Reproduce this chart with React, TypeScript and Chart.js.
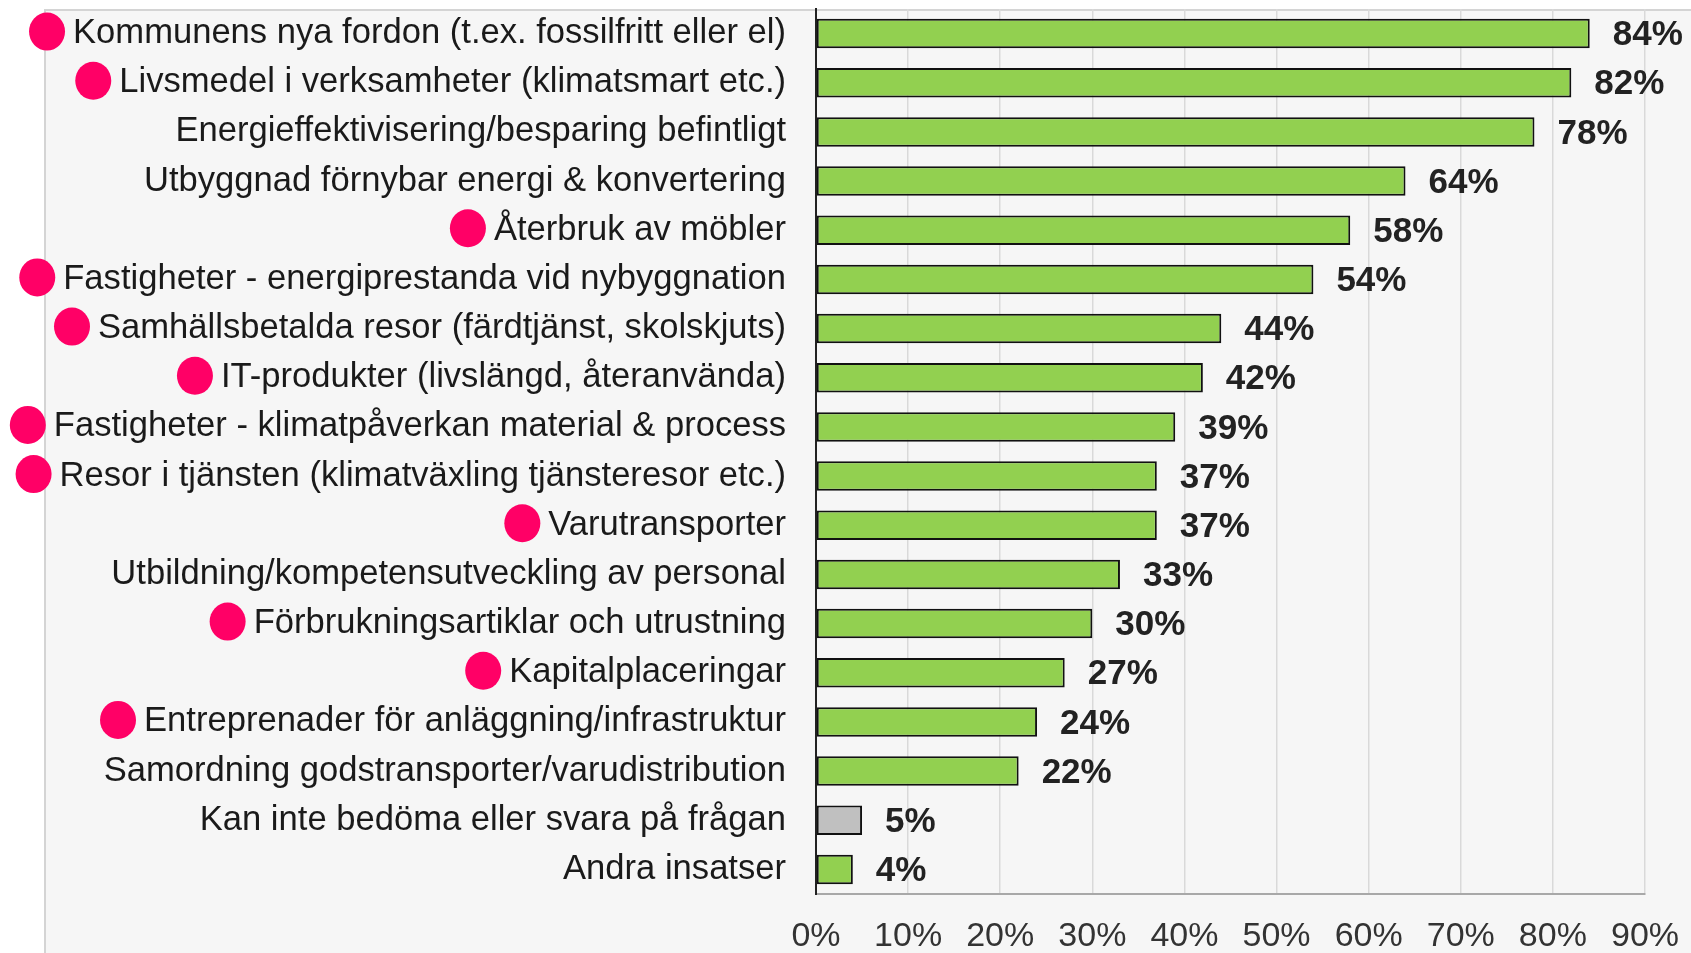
import React, { useEffect, useRef } from "react";
import { Chart, registerables } from "chart.js";

Chart.register(...registerables);

const categories = [
  "Kommunens nya fordon (t.ex. fossilfritt eller el)",
  "Livsmedel i verksamheter (klimatsmart etc.)",
  "Energieffektivisering/besparing befintligt",
  "Utbyggnad förnybar energi & konvertering",
  "Återbruk av möbler",
  "Fastigheter - energiprestanda vid nybyggnation",
  "Samhällsbetalda resor (färdtjänst, skolskjuts)",
  "IT-produkter (livslängd, återanvända)",
  "Fastigheter - klimatpåverkan material & process",
  "Resor i tjänsten (klimatväxling tjänsteresor etc.)",
  "Varutransporter",
  "Utbildning/kompetensutveckling av personal",
  "Förbrukningsartiklar och utrustning",
  "Kapitalplaceringar",
  "Entreprenader för anläggning/infrastruktur",
  "Samordning godstransporter/varudistribution",
  "Kan inte bedöma eller svara på frågan",
  "Andra insatser",
];

const values = [84, 82, 78, 64, 58, 54, 44, 42, 39, 37, 37, 33, 30, 27, 24, 22, 5, 4];

const marked = [
  true, true, false, false, true, true, true, true, true,
  true, true, false, true, true, true, false, false, false,
];

const isNeutral = [
  false, false, false, false, false, false, false, false, false,
  false, false, false, false, false, false, false, true, false,
];

const xTickValues = [0, 10, 20, 30, 40, 50, 60, 70, 80, 90];

const FONT_FAMILY = '"Liberation Sans", Arial, Helvetica, sans-serif';
const LABEL_FONT_SIZE = 34.6;
const LABEL_PADDING = 30;

const panelPlugin = {
  id: "panel",
  beforeDraw(chart: any) {
    const { ctx, width, height } = chart;
    ctx.save();
    ctx.fillStyle = "#ffffff";
    ctx.fillRect(0, 0, width, height);
    ctx.fillStyle = "#f6f6f6";
    ctx.fillRect(45, 10, width - 45, height - 10);
    ctx.strokeStyle = "#d4d4d4";
    ctx.lineWidth = 2;
    ctx.beginPath();
    ctx.moveTo(45, height);
    ctx.lineTo(45, 10);
    ctx.lineTo(width, 10);
    ctx.stroke();
    ctx.restore();
  },
};

const valueLabelPlugin = {
  id: "valueLabels",
  afterDatasetsDraw(chart: any) {
    const { ctx } = chart;
    const meta = chart.getDatasetMeta(0);
    ctx.save();
    ctx.font = `bold 35px ${FONT_FAMILY}`;
    ctx.fillStyle = "#222222";
    ctx.textAlign = "left";
    ctx.textBaseline = "middle";
    meta.data.forEach((bar: any, i: number) => {
      ctx.fillText(`${values[i]}%`, bar.x + 23, bar.y + 2);
    });
    ctx.restore();
  },
};

const dotPlugin = {
  id: "dots",
  afterDraw(chart: any) {
    const { ctx } = chart;
    const yScale = chart.scales.y;
    const textRight = chart.chartArea.left - LABEL_PADDING;
    ctx.save();
    ctx.font = `${LABEL_FONT_SIZE}px ${FONT_FAMILY}`;
    ctx.fillStyle = "#ff0066";
    categories.forEach((label, i) => {
      if (!marked[i]) return;
      const w = ctx.measureText(label).width;
      const y = yScale.getPixelForValue(i);
      const x = textRight - w - 26;
      ctx.beginPath();
      ctx.ellipse(x, y - 2, 18, 19, 0, 0, Math.PI * 2);
      ctx.fill();
    });
    ctx.restore();
  },
};

export default function App() {
  const canvasRef = useRef<HTMLCanvasElement | null>(null);

  useEffect(() => {
    if (!canvasRef.current) return;
    const chart = new Chart(canvasRef.current, {
      type: "bar",
      data: {
        labels: categories,
        datasets: [
          {
            data: values,
            backgroundColor: isNeutral.map((n) => (n ? "#c0c0c0" : "#92d050")),
            borderColor: "#111111",
            borderWidth: 2,
            borderSkipped: false,
            categoryPercentage: 1,
            barPercentage: 0.6,
          },
        ],
      },
      options: {
        indexAxis: "y",
        responsive: false,
        animation: false,
        layout: { padding: { top: 9, right: 46, left: 0, bottom: 0 } },
        plugins: {
          legend: { display: false },
          tooltip: { enabled: false },
        },
        scales: {
          x: {
            min: 0,
            max: 90,
            afterBuildTicks(scale: any) {
              scale.ticks = xTickValues.map((v) => ({ value: v }));
            },
            afterFit(scale: any) {
              scale.height = 59;
              scale.paddingLeft = 0;
              scale.paddingRight = 0;
            },
            grid: {
              display: true,
              color: "#d9d9d9",
              lineWidth: 1.5,
              drawTicks: false,
            },
            border: { display: true, color: "#a8a8a8", width: 2 },
            ticks: {
              padding: 22,
              maxRotation: 0,
              color: "#333333",
              font: { family: FONT_FAMILY, size: 34 },
              callback: (v: any) => `${v}%`,
            },
          },
          y: {
            afterFit(scale: any) {
              scale.width = 816;
              scale.paddingTop = 0;
              scale.paddingBottom = 0;
            },
            grid: { display: false, drawTicks: false },
            border: { display: true, color: "#222222", width: 2 },
            ticks: {
              autoSkip: false,
              padding: LABEL_PADDING,
              color: "#1a1a1a",
              font: { family: FONT_FAMILY, size: LABEL_FONT_SIZE },
            },
          },
        },
      },
      plugins: [panelPlugin, valueLabelPlugin, dotPlugin],
    });
    return () => chart.destroy();
  }, []);

  return (
    <div style={{ position: "absolute", left: 0, top: 0, width: 1691, height: 953 }}>
      <canvas ref={canvasRef} width={1691} height={953} style={{ display: "block" }} />
    </div>
  );
}
